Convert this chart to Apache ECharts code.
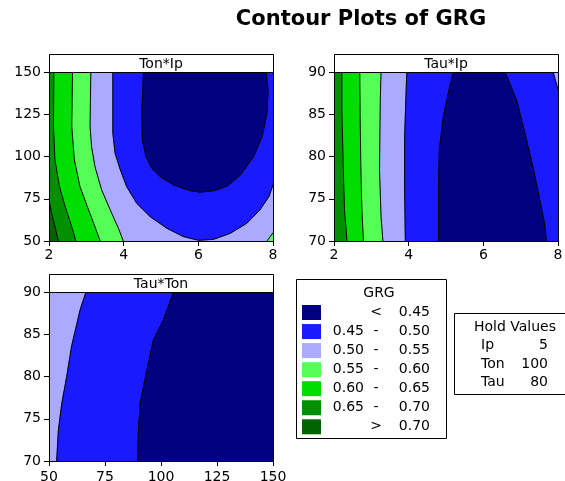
<!DOCTYPE html>
<html>
<head>
<meta charset="utf-8">
<script src="https://cdn.jsdelivr.net/npm/echarts@6/dist/echarts.min.js"></script>
<style>
html, body { margin: 0; padding: 0; background: #fff; }
#chart { width: 565px; height: 481px; }
</style>
</head>
<body>
<div id="chart"></div>
<script>
// GRG bands, index 0 = lowest (< 0.45)
const levelColors = ['#000080', '#1a1aff', '#aaaaff', '#55ff55', '#00dd00', '#009000', '#006400'];
const levelLow = ['', '0.45', '0.50', '0.55', '0.60', '0.65', ''];
const levelSign = ['<', '-', '-', '-', '-', '-', '>'];
const levelHigh = ['0.45', '0.50', '0.55', '0.60', '0.65', '0.70', '0.70'];

const holdNames = ['Ip', 'Ton', 'Tau'];
const holdValues = [5, 100, 80];

const panelTitles = ['Ton*Ip', 'Tau*Ip', 'Tau*Ton'];
const ipTicks = [2, 4, 6, 8];
const tonTicks = [50, 75, 100, 125, 150];
const tauTicks = [70, 75, 80, 85, 90];

// contour lines, [x, y]
// Ton*Ip  (x = Ip, y = Ton)
const tonIp70 = [[2, 74.3], [2.07, 66.4], [2.16, 58.5], [2.25, 50]];
const tonIp65 = [[2.13, 150], [2.12, 117.8], [2.16, 98], [2.28, 82.2], [2.46, 68.4], [2.61, 58.5], [2.72, 50]];
const tonIp60 = [[2.63, 150], [2.61, 117.8], [2.68, 98], [2.83, 82.2], [3.06, 68.4], [3.23, 58.5], [3.37, 50]];
const tonIp55 = [[3.12, 150], [3.10, 117.8], [3.14, 105.9], [3.23, 94.1], [3.41, 80.2], [3.64, 68.4], [3.86, 57.5], [3.99, 50]];
const tonIp55b = [[7.84, 50], [8, 54.9]];
const tonIp50 = [[3.71, 150], [3.71, 113.8], [3.77, 102], [3.91, 92.1], [4.08, 82.2], [4.35, 72.3], [4.71, 64.4], [5.16, 57.5],
  [5.60, 52.6], [6.01, 50.4], [6.41, 51], [6.85, 54.5], [7.30, 60.5], [7.65, 68.4], [7.89, 76.3], [8, 83.2]];
const tonIp45 = [[4.53, 150], [4.49, 127.7], [4.50, 109.9], [4.60, 100], [4.75, 93.1], [4.98, 88.1], [5.34, 83.2], [5.78, 79.8],
  [6.05, 78.9], [6.41, 79.8], [6.77, 82.5], [7.13, 89.1], [7.48, 100], [7.71, 111.9], [7.84, 125.7], [7.87, 139.5], [7.82, 150]];

// Tau*Ip  (x = Ip, y = Tau)
const tauIp65 = [[2.21, 90], [2.21, 85.5], [2.23, 82], [2.26, 76.8], [2.28, 73.7], [2.35, 70]];
const tauIp60 = [[2.69, 90], [2.70, 84.7], [2.72, 78.4], [2.75, 73.3], [2.79, 70]];
const tauIp55 = [[3.26, 90], [3.24, 86.7], [3.22, 78.4], [3.26, 72.9], [3.31, 70]];
const tauIp50 = [[3.95, 90], [3.93, 87.5], [3.89, 82], [3.89, 76.8], [3.91, 70]];
const tauIp50b = [[7.87, 90], [8, 87.9]];
const tauIp45a = [[5.20, 90], [5.06, 87.5], [4.93, 84.7], [4.82, 80.8], [4.80, 76.8], [4.80, 70]];
const tauIp45b = [[6.58, 90], [6.89, 86.7], [7.11, 82.8], [7.33, 78.8], [7.51, 74.9], [7.64, 72.1], [7.69, 70]];

// Tau*Ton  (x = Ton, y = Tau)
const tauTon50 = [[66.5, 90], [63.9, 87.9], [60.1, 83.6], [57.9, 80], [55.7, 76.8], [54.2, 73.7], [53.4, 70]];
const tauTon45 = [[105.6, 90], [101.1, 86.7], [96.6, 84.3], [93.7, 80.8], [90.7, 76.8], [89.9, 73.7], [89.6, 70]];

// filled regions painted low-to-high on top of each other
const panel1 = [
  { level: 6, poly: [[2, 50], [8, 50], [8, 150], [2, 150]], lines: [] },
  { level: 5, poly: tonIp70.concat([[8, 50], [8, 150], [2, 150]]), lines: [tonIp70] },
  { level: 4, poly: tonIp65.concat([[8, 50], [8, 150]]), lines: [tonIp65] },
  { level: 3, poly: tonIp60.concat([[8, 50], [8, 150]]), lines: [tonIp60] },
  { level: 2, poly: tonIp55.concat(tonIp55b, [[8, 150]]), lines: [tonIp55, tonIp55b] },
  { level: 1, poly: tonIp50.concat([[8, 150]]), lines: [tonIp50] },
  { level: 0, poly: tonIp45, lines: [tonIp45] }
];
const panel2 = [
  { level: 5, poly: [[2, 70], [8, 70], [8, 90], [2, 90]], lines: [] },
  { level: 4, poly: tauIp65.concat([[8, 70], [8, 90]]), lines: [tauIp65] },
  { level: 3, poly: tauIp60.concat([[8, 70], [8, 90]]), lines: [tauIp60] },
  { level: 2, poly: tauIp55.concat([[8, 70], [8, 90]]), lines: [tauIp55] },
  { level: 1, poly: tauIp50.concat([[8, 70]], tauIp50b.slice().reverse()), lines: [tauIp50, tauIp50b] },
  { level: 0, poly: tauIp45a.concat(tauIp45b.slice().reverse()), lines: [tauIp45a, tauIp45b] }
];
const panel3 = [
  { level: 2, poly: [[50, 70], [150, 70], [150, 90], [50, 90]], lines: [] },
  { level: 1, poly: tauTon50.concat([[150, 70], [150, 90]]), lines: [tauTon50] },
  { level: 0, poly: tauTon45.concat([[150, 70], [150, 90]]), lines: [tauTon45] }
];

const font = 'DejaVu Sans';
const txt = '14px "DejaVu Sans"';
const grids = [
  { left: 49, top: 72, width: 224, height: 169, outerBoundsMode: 'none' },
  { left: 334, top: 72, width: 224, height: 169, outerBoundsMode: 'none' },
  { left: 49, top: 292, width: 224, height: 169, outerBoundsMode: 'none' }
];

function axis(ticks, margin) {
  return {
    min: ticks[0], max: ticks[ticks.length - 1], interval: ticks[1] - ticks[0],
    axisLine: { show: true, lineStyle: { color: '#000', width: 1 } },
    axisTick: { show: true, length: 5, lineStyle: { color: '#000' } },
    axisLabel: { color: '#000', fontFamily: font, fontSize: 14, margin: margin },
    splitLine: { show: false }
  };
}

function contourSeries(idx, regions) {
  return {
    type: 'custom',
    xAxisIndex: idx, yAxisIndex: idx,
    clip: true,
    silent: true,
    data: regions.map((r, i) => [r.poly[0][0], r.poly[0][1], i]),
    encode: { x: 0, y: 1 },
    renderItem: function (params, api) {
      const r = regions[api.value(2)];
      const children = [{
        type: 'polygon',
        shape: { points: r.poly.map(p => api.coord(p)) },
        style: { fill: levelColors[r.level], stroke: levelColors[r.level], lineWidth: 0.5 }
      }];
      r.lines.forEach(l => children.push({
        type: 'polyline',
        shape: { points: l.map(p => api.coord(p)) },
        style: { fill: null, stroke: '#000', lineWidth: 1 }
      }));
      return { type: 'group', children: children };
    }
  };
}

const graphics = [{
  type: 'text',
  style: { text: 'Contour Plots of GRG', x: 361, y: 20, align: 'center', verticalAlign: 'middle',
    font: 'bold 21px "DejaVu Sans"', fill: '#000' }
}];
grids.forEach((g, i) => {
  graphics.push({ type: 'rect', z: 100, shape: { x: g.left + 0.5, y: g.top + 0.5, width: g.width, height: g.height },
    style: { fill: null, stroke: '#000', lineWidth: 1 } });
  graphics.push({ type: 'rect', z: 100, shape: { x: g.left + 0.5, y: g.top - 17.5, width: g.width, height: 18 },
    style: { fill: '#fff', stroke: '#000', lineWidth: 1 } });
  graphics.push({ type: 'text', z: 101, style: { text: panelTitles[i], x: g.left + g.width / 2, y: g.top - 8,
    align: 'center', verticalAlign: 'middle', font: txt, fill: '#000' } });
});

// GRG legend box
graphics.push({ type: 'rect', shape: { x: 296.5, y: 279.5, width: 150, height: 159 },
  style: { fill: '#fff', stroke: '#000', lineWidth: 1 } });
graphics.push({ type: 'text', style: { text: 'GRG', x: 379, y: 293, align: 'center', verticalAlign: 'middle',
  font: txt, fill: '#000' } });
levelColors.forEach((c, i) => {
  const yc = 312.5 + 19.05 * i;
  graphics.push({ type: 'rect', shape: { x: 302, y: yc - 7.5, width: 19, height: 15 }, style: { fill: c } });
  graphics.push({ type: 'text', style: { text: levelLow[i], x: 364, y: yc, align: 'right', verticalAlign: 'middle',
    font: txt, fill: '#000' } });
  graphics.push({ type: 'text', style: { text: levelSign[i], x: 376, y: yc, align: 'center', verticalAlign: 'middle',
    font: txt, fill: '#000' } });
  graphics.push({ type: 'text', style: { text: levelHigh[i], x: 430, y: yc, align: 'right', verticalAlign: 'middle',
    font: txt, fill: '#000' } });
});

// hold values box
graphics.push({ type: 'rect', shape: { x: 454.5, y: 313.5, width: 113, height: 81 },
  style: { fill: '#fff', stroke: '#000', lineWidth: 1 } });
graphics.push({ type: 'text', style: { text: 'Hold Values', x: 515, y: 327, align: 'center', verticalAlign: 'middle',
  font: txt, fill: '#000' } });
holdNames.forEach((n, i) => {
  const yc = 345.5 + 18.5 * i;
  graphics.push({ type: 'text', style: { text: n, x: 481, y: yc, align: 'left', verticalAlign: 'middle',
    font: txt, fill: '#000' } });
  graphics.push({ type: 'text', style: { text: String(holdValues[i]), x: 548, y: yc, align: 'right', verticalAlign: 'middle',
    font: txt, fill: '#000' } });
});

const chart = echarts.init(document.getElementById('chart'), null, { renderer: 'canvas' });
chart.setOption({
  animation: false,
  backgroundColor: '#fff',
  grid: grids,
  xAxis: [
    Object.assign({ gridIndex: 0 }, axis(ipTicks, 7)),
    Object.assign({ gridIndex: 1 }, axis(ipTicks, 7)),
    Object.assign({ gridIndex: 2 }, axis(tonTicks, 9))
  ],
  yAxis: [
    Object.assign({ gridIndex: 0 }, axis(tonTicks, 8)),
    Object.assign({ gridIndex: 1 }, axis(tauTicks, 8)),
    Object.assign({ gridIndex: 2 }, axis(tauTicks, 8))
  ],
  series: [contourSeries(0, panel1), contourSeries(1, panel2), contourSeries(2, panel3)],
  graphic: graphics
});
</script>
</body>
</html>
